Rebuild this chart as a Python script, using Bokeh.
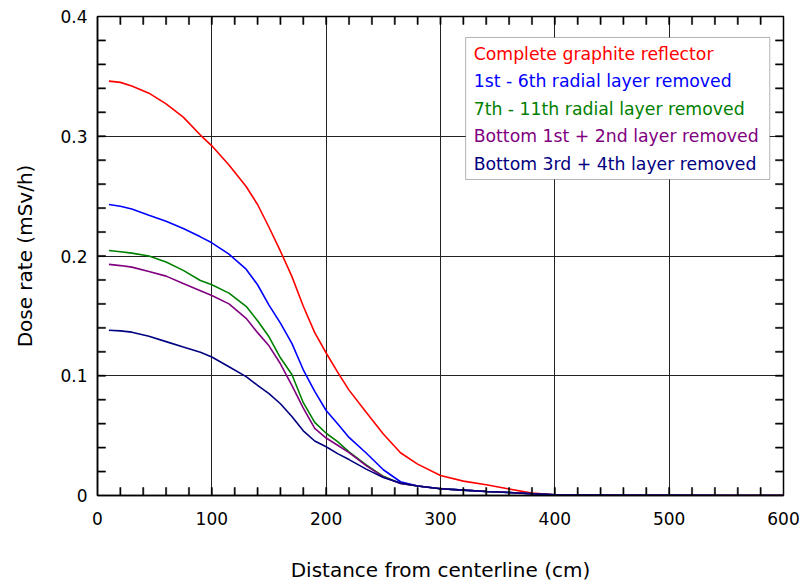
from bokeh.plotting import figure
from bokeh.models import FixedTicker, BoxAnnotation, Label, Range1d
from bokeh.embed import file_html
from bokeh.resources import INLINE

distance = [10, 20, 30, 45, 60, 75, 90, 100, 115, 130, 140, 150, 160, 170, 180,
            190, 200, 210, 220, 235, 250, 265, 280, 300, 320, 340, 360, 380, 400,
            450, 500, 550, 600]

complete = [0.346, 0.345, 0.342, 0.336, 0.327, 0.316, 0.301, 0.292, 0.276, 0.258,
            0.243, 0.224, 0.204, 0.183, 0.158, 0.136, 0.119, 0.103, 0.088, 0.0696,
            0.0514, 0.0357, 0.0262, 0.0167, 0.012, 0.009, 0.0055, 0.002, 0.0005,
            0.0003, 0.0002, 0.0001, 0.0001]
radial_1_6 = [0.243, 0.2415, 0.2392, 0.234, 0.229, 0.223, 0.216, 0.211, 0.2015, 0.189,
              0.176, 0.159, 0.144, 0.127, 0.105, 0.087, 0.071, 0.060, 0.0485, 0.0355,
              0.0215, 0.0115, 0.008, 0.0056, 0.0045, 0.0034, 0.0025, 0.0014, 0.0005,
              0.0002, 0.0001, 0.0, 0.0]
radial_7_11 = [0.2046, 0.2036, 0.2024, 0.200, 0.195, 0.188, 0.1795, 0.176, 0.169, 0.158,
               0.146, 0.1325, 0.115, 0.101, 0.0775, 0.061, 0.052, 0.045, 0.0365, 0.0255,
               0.016, 0.010, 0.008, 0.0056, 0.0045, 0.0034, 0.0025, 0.0014, 0.0005,
               0.0002, 0.0001, 0.0, 0.0]
bottom_1_2 = [0.193, 0.192, 0.1907, 0.187, 0.1832, 0.177, 0.171, 0.167, 0.160, 0.148,
              0.136, 0.125, 0.110, 0.092, 0.073, 0.056, 0.048, 0.042, 0.0358, 0.025,
              0.0155, 0.010, 0.008, 0.0056, 0.0045, 0.0034, 0.0025, 0.0014, 0.0005,
              0.0002, 0.0001, 0.0, 0.0]
bottom_3_4 = [0.138, 0.1375, 0.1364, 0.133, 0.1285, 0.124, 0.1197, 0.1157, 0.1075, 0.0993,
              0.092, 0.085, 0.0766, 0.066, 0.054, 0.0455, 0.0407, 0.035, 0.030, 0.022,
              0.015, 0.0105, 0.008, 0.0056, 0.0045, 0.0034, 0.0025, 0.0014, 0.0005,
              0.0002, 0.0001, 0.0, 0.0]

series = [
    ("Complete graphite reflector", complete, "#ff0000"),
    ("1st - 6th radial layer removed", radial_1_6, "#0000ff"),
    ("7th - 11th radial layer removed", radial_7_11, "#008000"),
    ("Bottom 1st + 2nd layer removed", bottom_1_2, "#800080"),
    ("Bottom 3rd + 4th layer removed", bottom_3_4, "#000080"),
]

x_major = [0, 100, 200, 300, 400, 500, 600]
x_minor = [float(v) for v in range(20, 600, 20)]
y_major = [0, 0.1, 0.2, 0.3, 0.4]
y_minor = [round(i * 0.02, 2) for i in range(1, 20)]
y_labels = {0: "0", 0.1: "0.1", 0.2: "0.2", 0.3: "0.3", 0.4: "0.4"}

FONT = "DejaVu Sans"
X0, X1, Y0, Y1 = 0.0, 600.0, 0.0, 0.4
FW, FH = 686, 479

p = figure(frame_width=FW, frame_height=FH, output_backend="svg",
           toolbar_location=None, x_range=Range1d(X0, X1), y_range=Range1d(Y0, Y1),
           min_border_left=97, min_border_right=17, min_border_top=16,
           min_border_bottom=93, background_fill_color="white",
           border_fill_color="white")
p.outline_line_color = "black"
p.outline_line_width = 1.5

p.xgrid.ticker = FixedTicker(ticks=x_major)
p.ygrid.ticker = FixedTicker(ticks=y_major)
p.xgrid.grid_line_color = "#222222"
p.ygrid.grid_line_color = "#222222"
p.xgrid.grid_line_width = 1
p.ygrid.grid_line_width = 1

for name, vals, col in series:
    p.line(distance, vals, line_color=col, line_width=1.6)

# inward minor ticks on all four sides, drawn on the overlay level (8px long)
TL = 8
hx = (TL / 2) * (X1 - X0) / FW
hy = (TL / 2) * (Y1 - Y0) / FH
rstyle = dict(fill_color="black", line_color="black", line_width=0.5,
              width_units="screen", height_units="screen", level="overlay")
p.rect(x=x_minor, y=[Y0 + hy] * len(x_minor), width=1.2, height=TL, **rstyle)
p.rect(x=x_minor, y=[Y1 - hy] * len(x_minor), width=1.2, height=TL, **rstyle)
p.rect(x=[X0 + hx] * len(y_minor), y=y_minor, width=TL, height=1.2, **rstyle)
p.rect(x=[X1 - hx] * len(y_minor), y=y_minor, width=TL, height=1.2, **rstyle)

def style_axis(ax, major):
    ax.ticker = FixedTicker(ticks=major, minor_ticks=[])
    ax.major_tick_in = 0
    ax.major_tick_out = 0
    ax.minor_tick_in = 0
    ax.minor_tick_out = 0
    ax.axis_line_color = "black"
    ax.axis_line_width = 1.5

xa = p.xaxis[0]
style_axis(xa, x_major)
xa.axis_label = "Distance from centerline (cm)"
xa.axis_label_text_font = FONT
xa.axis_label_text_font_style = "normal"
xa.axis_label_text_font_size = "20px"
xa.axis_label_text_color = "black"
xa.axis_label_standoff = 30
xa.major_label_text_font = FONT
xa.major_label_text_font_size = "17px"
xa.major_label_text_color = "black"
xa.major_label_standoff = 16

ya = p.yaxis[0]
style_axis(ya, y_major)
ya.axis_label = "Dose rate (mSv/h)"
ya.axis_label_text_font = FONT
ya.axis_label_text_font_style = "normal"
ya.axis_label_text_font_size = "20px"
ya.axis_label_text_color = "black"
ya.axis_label_standoff = 20
ya.major_label_text_font = FONT
ya.major_label_text_font_size = "17px"
ya.major_label_text_color = "black"
ya.major_label_standoff = 10
ya.major_label_overrides = y_labels

box = BoxAnnotation(left=322, right=588, top=0.3825, bottom=0.2639,
                    fill_color="white", fill_alpha=1.0,
                    line_color="black", line_width=1)
p.add_layout(box)
ly0 = 0.369
step = 0.02296
for i, (name, vals, col) in enumerate(series):
    p.add_layout(Label(x=329, y=ly0 - i * step, text=name, text_color=col,
                       text_font=FONT, text_font_size="17.3px",
                       text_baseline="middle", text_align="left"))

open("out.html", "w").write(file_html(p, INLINE))
